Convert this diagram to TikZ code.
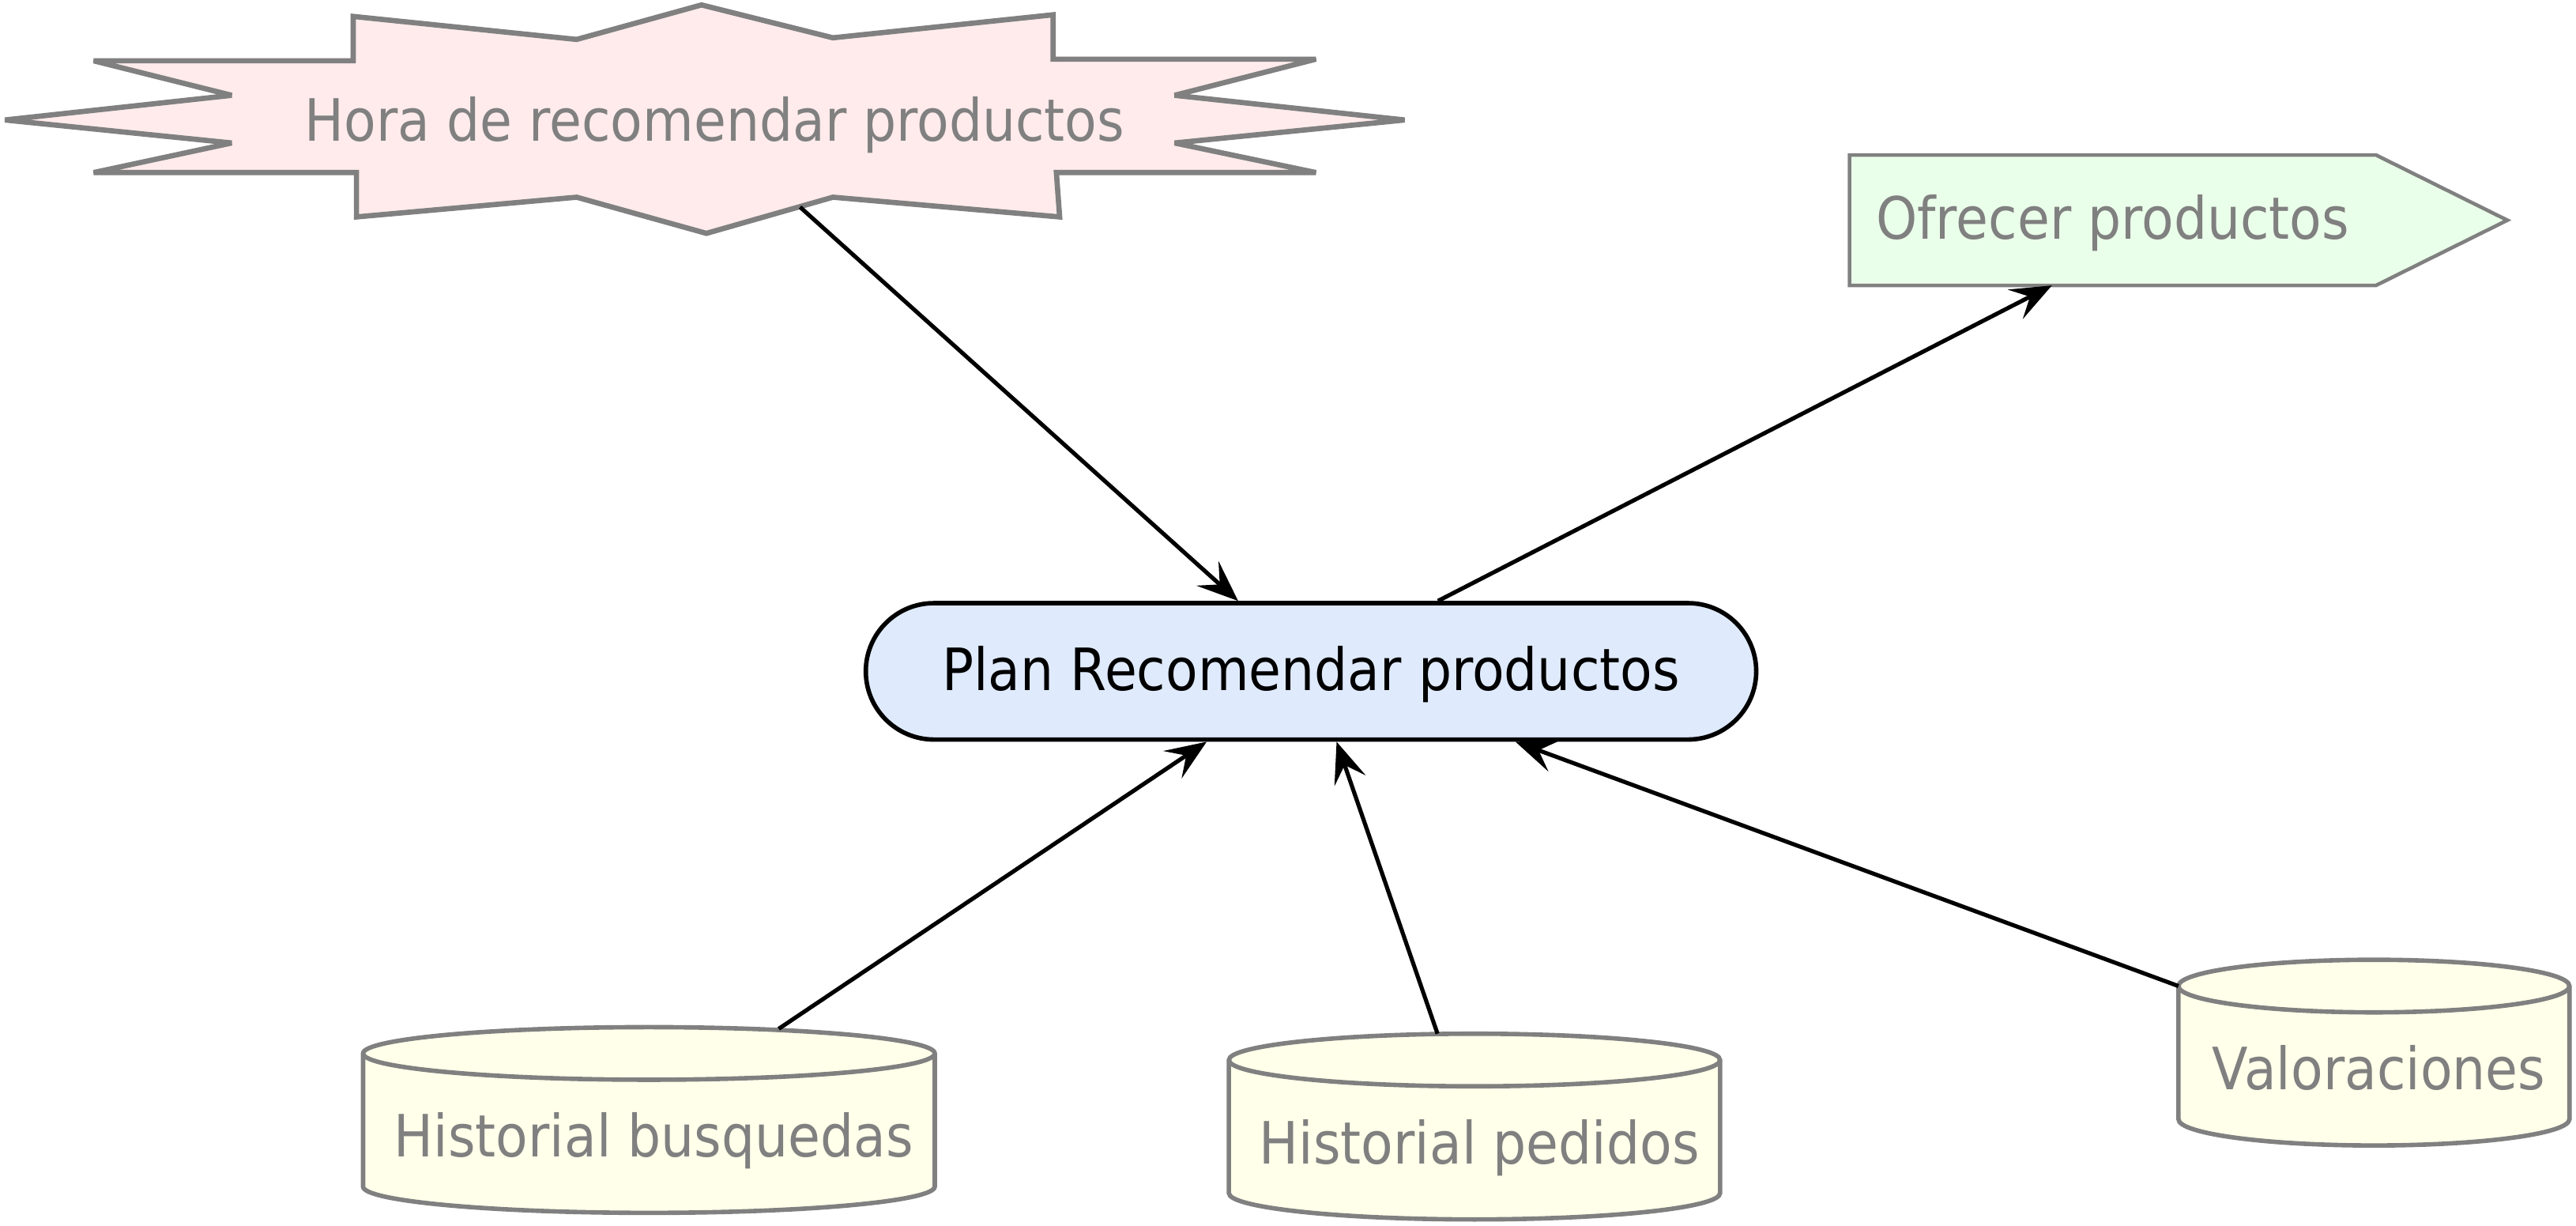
\documentclass[tikz,border=0pt]{standalone}
\usepackage{fontspec}
\setmainfont{DejaVu Sans}[FakeStretch=0.9]
\usepackage{tikz}
\usetikzlibrary{shapes.misc,arrows.meta,backgrounds}

\definecolor{shapeGray}{HTML}{808080}
\definecolor{colHora}{HTML}{FFEBEB}
\definecolor{colOffer}{HTML}{EAFFEA}
\definecolor{colPlan}{HTML}{DFEAFD}
\definecolor{colStore}{HTML}{FFFFEA}

\begin{document}
\begin{tikzpicture}[x=1pt,y=-1pt,
		every node/.style={font=\fontsize{35.5pt}{42pt}\selectfont,inner sep=0pt,text height=31pt,text depth=8pt},
		grayText/.style={text=shapeGray},
		grayLine/.style={draw=shapeGray,line join=miter,miter limit=4},
		flow/.style={draw=black,line width=2.5pt,-{Stealth[length=25pt,width=20pt,inset=10pt]}}]
		\useasboundingbox (0,0) rectangle (1568,746);

		\node[grayText] (hora) at (435,74.5) {Hora de recomendar productos};
		\node[grayText,minimum width=320pt,minimum height=79pt] (ofrecer) at (1286,134) {Ofrecer productos};
		\node[rounded rectangle,draw=black,line width=2.7pt,fill=colPlan,minimum width=542pt,minimum height=83pt] (plan) at (798,408.5) {Plan Recomendar productos};

		\begin{scope}[on background layer]
			\filldraw[grayLine,line width=3.2pt,fill=colHora]
				(427,3) -- (507,23) -- (641,9) -- (641,36) -- (801,36) -- (715,58) -- (855,73) -- (715,87)
				-- (801,105) -- (643,105) -- (645,132) -- (507,120) -- (430,142) -- (351,120) -- (217,132)
				-- (217,105) -- (57,105) -- (141,87) -- (3,73) -- (141,58) -- (57,37) -- (215,37) -- (215,10)
				-- (351,24) -- cycle;
			\filldraw[grayLine,line width=2.2pt,fill=colOffer]
				(ofrecer.north west) -- (ofrecer.north east) -- ([xshift=80pt]ofrecer.east)
				-- (ofrecer.south east) -- (ofrecer.south west) -- cycle;
		\end{scope}
		\coordinate (horaOut) at (487,126);

		\begin{scope}[grayLine,line width=2.7pt]
			\foreach \nm/\cx/\cy/\w/\txt in {busq/395/641/348/{Historial busquedas},pedidos/897.5/645/299/{Historial pedidos},valor/1445/600/238/{Valoraciones}} {
				\filldraw[fill=colStore] ({\cx-\w/2},\cy) -- ({\cx-\w/2},\cy+81)
					arc[start angle=180,end angle=360,x radius=\w/2*1pt,y radius=16pt] -- ({\cx+\w/2},\cy)
					arc[start angle=0,end angle=180,x radius=\w/2*1pt,y radius=16pt] -- cycle;
				\draw ({\cx-\w/2},\cy) arc[start angle=180,end angle=360,x radius=\w/2*1pt,y radius=16pt];
				\node[grayText] (\nm) at (\cx+3,\cy+51.5) {\txt};
			}
		\end{scope}
		\coordinate (busqTop) at (474,626);
		\coordinate (pedidosTop) at (875,629);
		\coordinate (valorTop) at (1326,600);

		\draw[flow] (horaOut) -- (plan.136);
		\draw[flow] (plan.29) -- (ofrecer.227);
		\draw[flow] (busqTop) -- (plan.214);
		\draw[flow] (pedidosTop) -- (plan.290);
		\draw[flow] (valorTop) -- (plan.341);
	\end{tikzpicture}
\end{document}
